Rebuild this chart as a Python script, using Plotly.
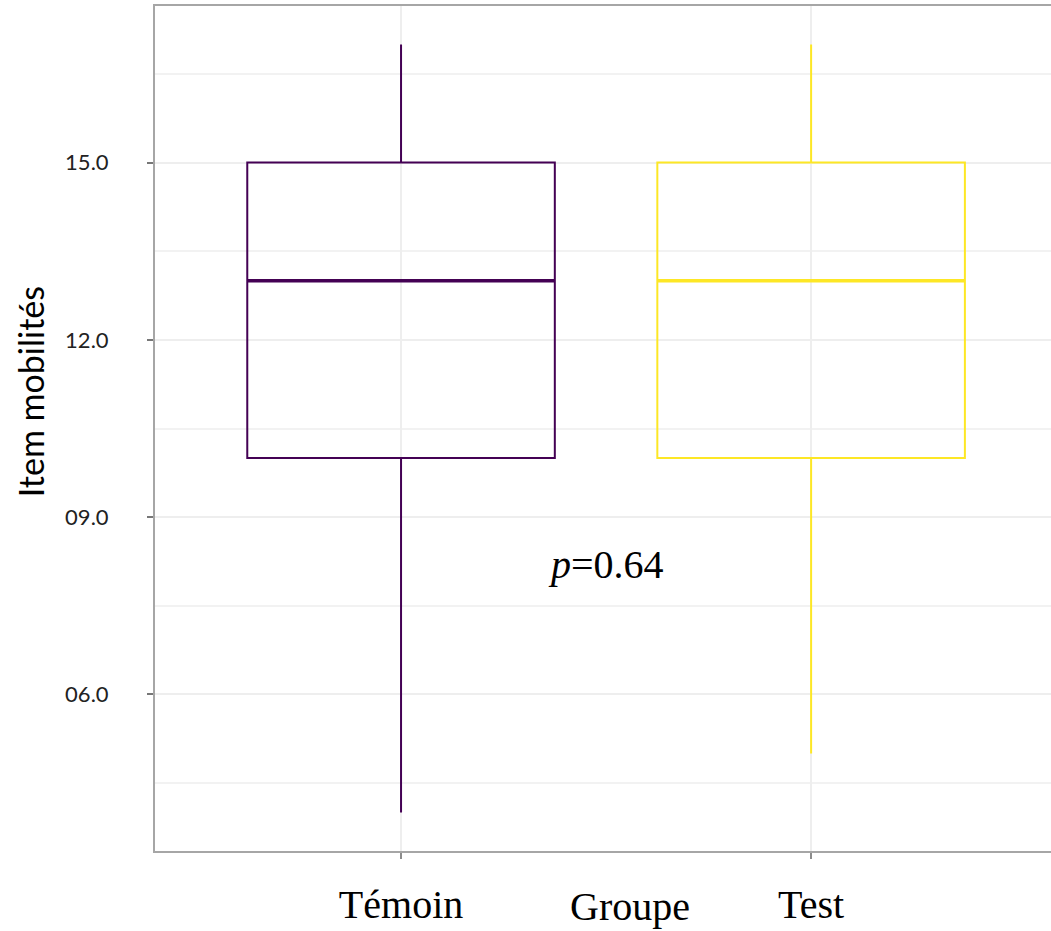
import plotly.graph_objects as go

# groups and box statistics
groups = ["Témoin", "Test"]
colors = ["#440154", "#FDE725"]
q1 = [10, 10]
median = [13, 13]
q3 = [15, 15]
lower = [4, 5]
upper = [17, 17]

y_ticks = [6, 9, 12, 15]
y_labels = ["06.0", "09.0", "12.0", "15.0"]
y_minor = [4.5, 7.5, 10.5, 13.5, 16.5]

serif = "Liberation Serif"
sans = "Lato"
box_width = 0.75

fig = go.Figure()
for i, g in enumerate(groups):
    fig.add_trace(
        go.Box(
            x=[g],
            q1=[q1[i]],
            median=[median[i]],
            q3=[q3[i]],
            lowerfence=[lower[i]],
            upperfence=[upper[i]],
            width=box_width,
            whiskerwidth=0,
            line=dict(color=colors[i], width=2),
            fillcolor="rgba(255,255,255,0)",
            boxpoints=False,
            showlegend=False,
        )
    )
    # thicker median line, as in ggplot
    fig.add_shape(
        type="line", xref="x", yref="y",
        x0=i - box_width / 2, x1=i + box_width / 2,
        y0=median[i], y1=median[i],
        line=dict(color=colors[i], width=3.5),
    )

fig.update_layout(
    width=1051,
    height=931,
    margin=dict(l=155, r=0, t=6, b=80),
    plot_bgcolor="white",
    paper_bgcolor="white",
    xaxis=dict(
        type="category",
        categoryorder="array",
        categoryarray=groups,
        range=[-0.6, 1.585],
        showline=True,
        mirror=True,
        linecolor="#A6A6A6",
        linewidth=2,
        showgrid=True,
        gridcolor="#EEEEEE",
        gridwidth=1.5,
        ticks="outside",
        ticklen=6,
        tickwidth=2,
        tickcolor="#8C8C8C",
        ticklabelstandoff=11,
        tickfont=dict(family=serif, size=40, color="black"),
        zeroline=False,
    ),
    yaxis=dict(
        range=[3.35, 17.65],
        tickmode="array",
        tickvals=y_ticks,
        ticktext=y_labels,
        showline=True,
        linecolor="#A6A6A6",
        linewidth=2,
        showgrid=True,
        gridcolor="#EEEEEE",
        gridwidth=1.5,
        minor=dict(tickmode="array", tickvals=y_minor, showgrid=True,
                   gridcolor="#F2F2F2", gridwidth=1.5, ticks=""),
        ticks="outside",
        ticklen=6,
        tickwidth=2,
        tickcolor="#777777",
        ticklabelstandoff=34,
        tickfont=dict(family=sans, size=22, color="#222222"),
        zeroline=False,
    ),
    annotations=[
        dict(text="Item mobilités", textangle=-90, xref="paper", yref="paper",
             x=-125 / 896, y=0.543, xanchor="center", yanchor="middle",
             showarrow=False, font=dict(family=sans, size=34, color="black")),
        dict(text="Groupe", xref="paper", yref="paper",
             x=(630 - 155) / 896, y=-55 / 845, xanchor="center", yanchor="middle",
             showarrow=False, font=dict(family=serif, size=40, color="black")),
        dict(text="<i>p</i>=0.64", xref="x", yref="y", x=0.5, y=8.2,
             xanchor="center", yanchor="middle", showarrow=False,
             font=dict(family=serif, size=40, color="black")),
    ],
)

fig.write_html("out.html", config={"displayModeBar": False},
               post_script="document.body.style.margin='0';")
